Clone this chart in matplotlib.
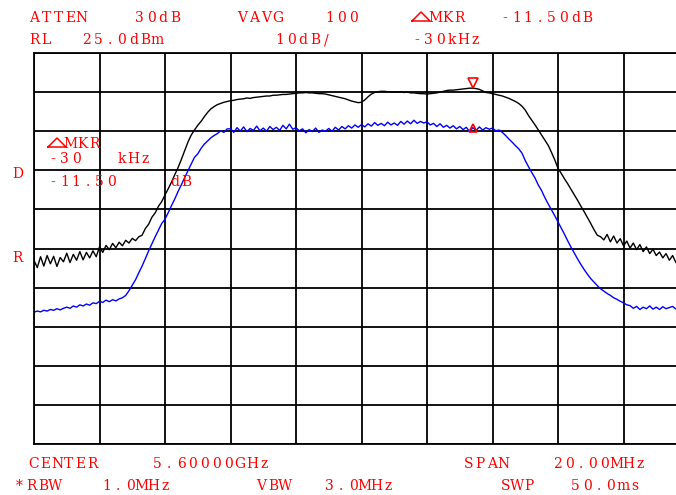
import numpy as np
import matplotlib
matplotlib.use("Agg")
import matplotlib.pyplot as plt
from matplotlib.lines import Line2D
from matplotlib.transforms import offset_copy

# sweep: 20 MHz span around 5.6 GHz, offsets in MHz
freq_mhz = np.round(np.arange(-10.0, 10.05, 0.1), 1)

# trace levels in dBm (black = reference trace, blue = second trace)
black_db = [
    -28.0, -29.9, -27.1, -29.5, -26.8, -28.9, -27.0, -29.6, -27.3, -28.4,
    -26.2, -28.6, -26.5, -28.0, -25.8, -27.9, -26.0, -27.4, -25.6, -27.1,
    -24.6, -26.0, -24.2, -25.3, -23.7, -24.8, -23.4, -24.3, -22.9, -23.6,
    -22.4, -23.0, -22.0, -21.6, -19.9, -18.8, -17.0, -15.9, -14.2, -13.0,
    -11.3, -9.7, -8.0, -6.1, -4.3, -2.2, 0.0, 2.2, 4.0, 5.3,
    6.5, 7.5, 8.7, 9.8, 10.7, 11.3, 11.8, 12.1, 12.4, 12.6,
    12.8, 12.9, 13.1, 13.2, 13.3, 13.5, 13.4, 13.6, 13.7, 13.8,
    13.9, 14.0, 14.0, 14.2, 14.2, 14.3, 14.4, 14.4, 14.5, 14.6,
    14.7, 14.8, 14.8, 14.9, 14.8, 14.8, 14.7, 14.6, 14.6, 14.5,
    14.3, 14.1, 13.9, 13.7, 13.5, 13.3, 13.0, 12.7, 12.5, 12.3,
    12.4, 13.0, 13.8, 14.5, 14.9, 15.1, 15.2, 15.2, 15.1, 15.1,
    15.0, 15.0, 15.1, 14.9, 15.0, 14.8, 14.8, 14.7, 14.6, 14.6,
    14.5, 14.6, 14.7, 14.8, 15.0, 15.2, 15.4, 15.5, 15.5, 15.6,
    15.7, 15.8, 15.9, 16.0, 16.0, 15.9, 15.7, 15.3, 14.9, 14.8,
    14.6, 14.4, 14.2, 14.0, 13.7, 13.4, 13.0, 12.6, 12.1, 11.4,
    10.4, 9.0, 7.8, 6.6, 5.3, 4.0, 2.7, 1.4, -0.4, -2.3,
    -4.5, -5.8, -7.2, -8.5, -9.9, -11.3, -12.7, -14.2, -15.6, -17.1,
    -18.6, -20.2, -21.6, -22.0, -22.8, -21.4, -23.3, -21.8, -23.6, -22.5,
    -24.3, -23.1, -24.9, -23.6, -25.3, -24.0, -25.8, -24.6, -26.3, -25.2,
    -26.8, -25.9, -27.4, -26.3, -28.0, -26.8, -28.6, -27.5, -28.9, -27.9,
    -28.6,
]

blue_db = [
    -41.3, -41.0, -41.2, -40.8, -41.0, -40.6, -40.8, -40.4, -40.7, -40.3,
    -40.0, -40.3, -39.7, -40.0, -39.4, -39.7, -39.2, -39.5, -38.9, -39.1,
    -38.5, -38.8, -38.2, -38.6, -38.1, -38.4, -37.9, -37.6, -37.0, -35.8,
    -34.4, -33.0, -31.2, -29.5, -27.6, -25.6, -23.8, -22.0, -20.3, -18.6,
    -17.5, -15.8, -14.0, -12.3, -10.4, -8.7, -6.9, -5.1, -3.4, -1.7,
    -0.8, 0.6, 1.7, 2.5, 3.3, 3.9, 4.4, 5.1, 4.7, 5.6,
    5.6, 4.7, 5.9, 5.0, 6.1, 4.9, 5.7, 5.2, 6.3, 5.1,
    5.8, 5.0, 6.2, 5.4, 6.0, 5.2, 6.5, 5.6, 6.8, 5.5,
    5.9, 5.1, 5.6, 4.6, 5.4, 4.9, 5.8, 4.7, 5.3, 5.0,
    5.7, 5.0, 6.0, 5.3, 6.2, 5.6, 6.4, 5.8, 6.6, 6.0,
    6.7, 6.1, 6.9, 6.3, 7.2, 6.5, 7.0, 6.4, 7.3, 6.6,
    7.1, 6.5, 7.5, 6.8, 7.6, 6.9, 7.8, 7.0, 7.5, 7.1,
    7.4, 6.6, 7.0, 6.2, 6.9, 6.0, 6.5, 5.8, 6.4, 5.6,
    6.2, 5.4, 6.0, 4.9, 5.9, 5.2, 6.1, 5.3, 5.9, 5.5,
    5.8, 5.1, 5.3, 4.7, 3.9, 3.0, 2.2, 1.3, 0.5, -0.6,
    -2.5, -4.1, -5.6, -7.0, -8.8, -10.2, -12.0, -13.6, -15.1, -16.6,
    -18.2, -19.8, -21.4, -23.1, -24.7, -26.2, -27.7, -29.1, -30.4, -31.6,
    -32.7, -33.6, -34.5, -35.3, -35.9, -36.5, -37.0, -37.6, -38.0, -38.5,
    -38.9, -39.4, -39.6, -40.3, -39.8, -40.6, -40.0, -40.4, -39.7, -40.5,
    -40.0, -40.6, -39.9, -40.4, -40.1, -39.8, -40.5, -40.0, -40.3, -39.9,
    -40.2,
]

marker_mhz = 3.4
ref_level = 25.0
db_per_div = 10

W, H = 676, 495
RED = "#ff0000"

fig = plt.figure(figsize=(W / 100, H / 100), dpi=100)
fig.patch.set_facecolor("white")

# graticule: 10 x 10 divisions, right edge runs past the screen
ax = fig.add_axes([34 / W, 1 - 444 / H, 655 / W, 391 / H])
ax.set_xlim(-10, 10)
ax.set_ylim(ref_level - 10 * db_per_div, ref_level)
ax.set_xticks(np.arange(-10, 10.1, 2))
ax.set_yticks(np.arange(ref_level - 10 * db_per_div, ref_level + 1, db_per_div))
ax.tick_params(length=0, labelbottom=False, labelleft=False)
ax.grid(True, color="black", lw=1.3)
for sp in ax.spines.values():
    sp.set_linewidth(1.3)

ax.plot(freq_mhz, black_db, color="black", lw=1.0)
ax.plot(freq_mhz, blue_db, color="#0000ff", lw=1.0)

# delta markers
i = int(np.argmin(np.abs(freq_mhz - marker_mhz)))
ax.plot(freq_mhz[i], black_db[i], marker="v", ms=7, mfc="none", mec=RED, mew=1.2,
        transform=offset_copy(ax.transData, fig, y=5, units="dots"), zorder=5)
ax.plot(freq_mhz[i], blue_db[i], marker="^", ms=6, mfc="none", mec=RED, mew=1.2, zorder=5)


def put(x, y, s, step=11.8):
    # one character per cell, like the analyser's fixed-pitch screen font
    for k, ch in enumerate(s):
        fig.text((x + 4.5 + k * step) / W, 1 - (y + 5) / H, ch, ha="center",
                 va="baseline", color=RED, fontsize=10, family="DejaVu Serif",
                 zorder=10)


def delta(x, y):
    # flat triangle used in front of MKR
    xs = [x, x + 18, x + 9, x]
    ys = [y + 4, y + 4, y - 5, y + 4]
    fig.add_artist(Line2D([v / W for v in xs], [1 - v / H for v in ys],
                          transform=fig.transFigure, color=RED, lw=1.1, zorder=10))


# header
put(30, 17, "ATTEN")
put(135, 17, "30dB")
put(238, 17, "VAVG")
put(325, 17, "100")
delta(412, 17)
put(431, 17, "MKR")
put(500, 17, "-11.50dB")
put(30, 39, "RL")
put(82, 39, "25.0dBm")
put(275, 39, "10dB/")
put(412, 39, "-30kHz")

# footer
put(29, 463, "CENTER")
put(153, 463, "5.60000GHz")
put(464, 463, "SPAN")
put(553, 463, "20.00MHz")
put(15, 485, "*RBW")
put(102, 485, "1.0MHz")
put(257, 485, "VBW")
put(325, 485, "3.0MHz")
put(501, 485, "SWP")
put(571, 485, "50.0ms")

# side labels
put(13, 173, "D")
put(13, 257, "R")

# marker readout on screen
delta(48, 143)
put(66, 143, "MKR")
put(48, 158, "-30")
put(117, 158, "kHz")
put(48, 181, "-11.50")
put(170, 181, "dB")

fig.savefig("out.png", dpi=100)
